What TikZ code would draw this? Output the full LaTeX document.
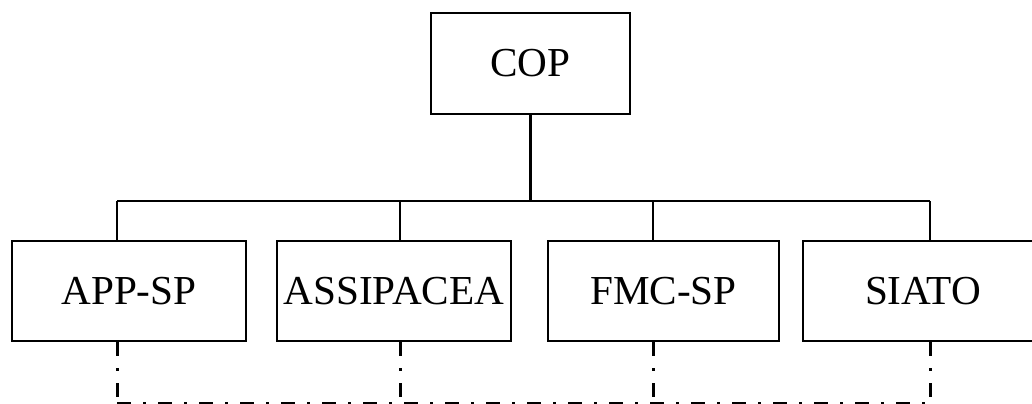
\documentclass[tikz,border=0pt]{standalone}
\usepackage{fontspec}
\setmainfont{Liberation Serif}
\usetikzlibrary{positioning}

\begin{document}
\begin{tikzpicture}[x=0.5pt, y=-0.5pt,
    unit/.style={draw, line width=1.25pt, minimum width=117pt, minimum height=50pt,
                 inner sep=0pt, font=\fontsize{20.6}{24}\selectfont},
    link/.style={line width=1.1pt},
    dashdot/.style={line width=1.5pt, dash pattern=on 7pt off 6pt on 1.5pt off 6pt}]

    \useasboundingbox (0,0) rectangle (1032,403);

    % Nodes
    \node (cop) [unit, minimum width=99.5pt, minimum height=50.5pt] at (530.5,63.5) {COP};
    \node (app) [unit] at (129,291) {APP-SP};
    \node (assi) [unit] at (394,291) {ASSIPACEA};
    \node (fmc) [unit, minimum width=115.5pt] at (663.5,291) {FMC-SP};
    \node (siato) [unit, minimum width=120pt] at (923,291) {SIATO};

    % Bus taps and feet of the lower line
    \coordinate (tap1) at (117,201);
    \coordinate (tap2) at (400,201);
    \coordinate (tap3) at (653,201);
    \coordinate (tap4) at (930,201);
    \coordinate (foot1) at (117,403.5);
    \coordinate (foot2) at (400,403.5);
    \coordinate (foot3) at (653,403.5);
    \coordinate (foot4) at (930,403.5);

    % Lines
    \draw[link] (cop.south) -- (cop.south |- tap1);
    \draw[link] (tap1) -- (tap4);
    \draw[link] (tap1) -- (tap1 |- app.north);
    \draw[link] (tap2) -- (tap2 |- assi.north);
    \draw[link] (tap3) -- (tap3 |- fmc.north);
    \draw[link] (tap4) -- (tap4 |- siato.north);

    % Dash-dot lines below
    \draw[dashdot] (foot1 |- app.south) -- (foot1);
    \draw[dashdot] (foot2 |- assi.south) -- (foot2);
    \draw[dashdot] (foot3 |- fmc.south) -- (foot3);
    \draw[dashdot] (foot4 |- siato.south) -- (foot4);
    \draw[dashdot] (foot1) -- (foot4);

\end{tikzpicture}
\end{document}
